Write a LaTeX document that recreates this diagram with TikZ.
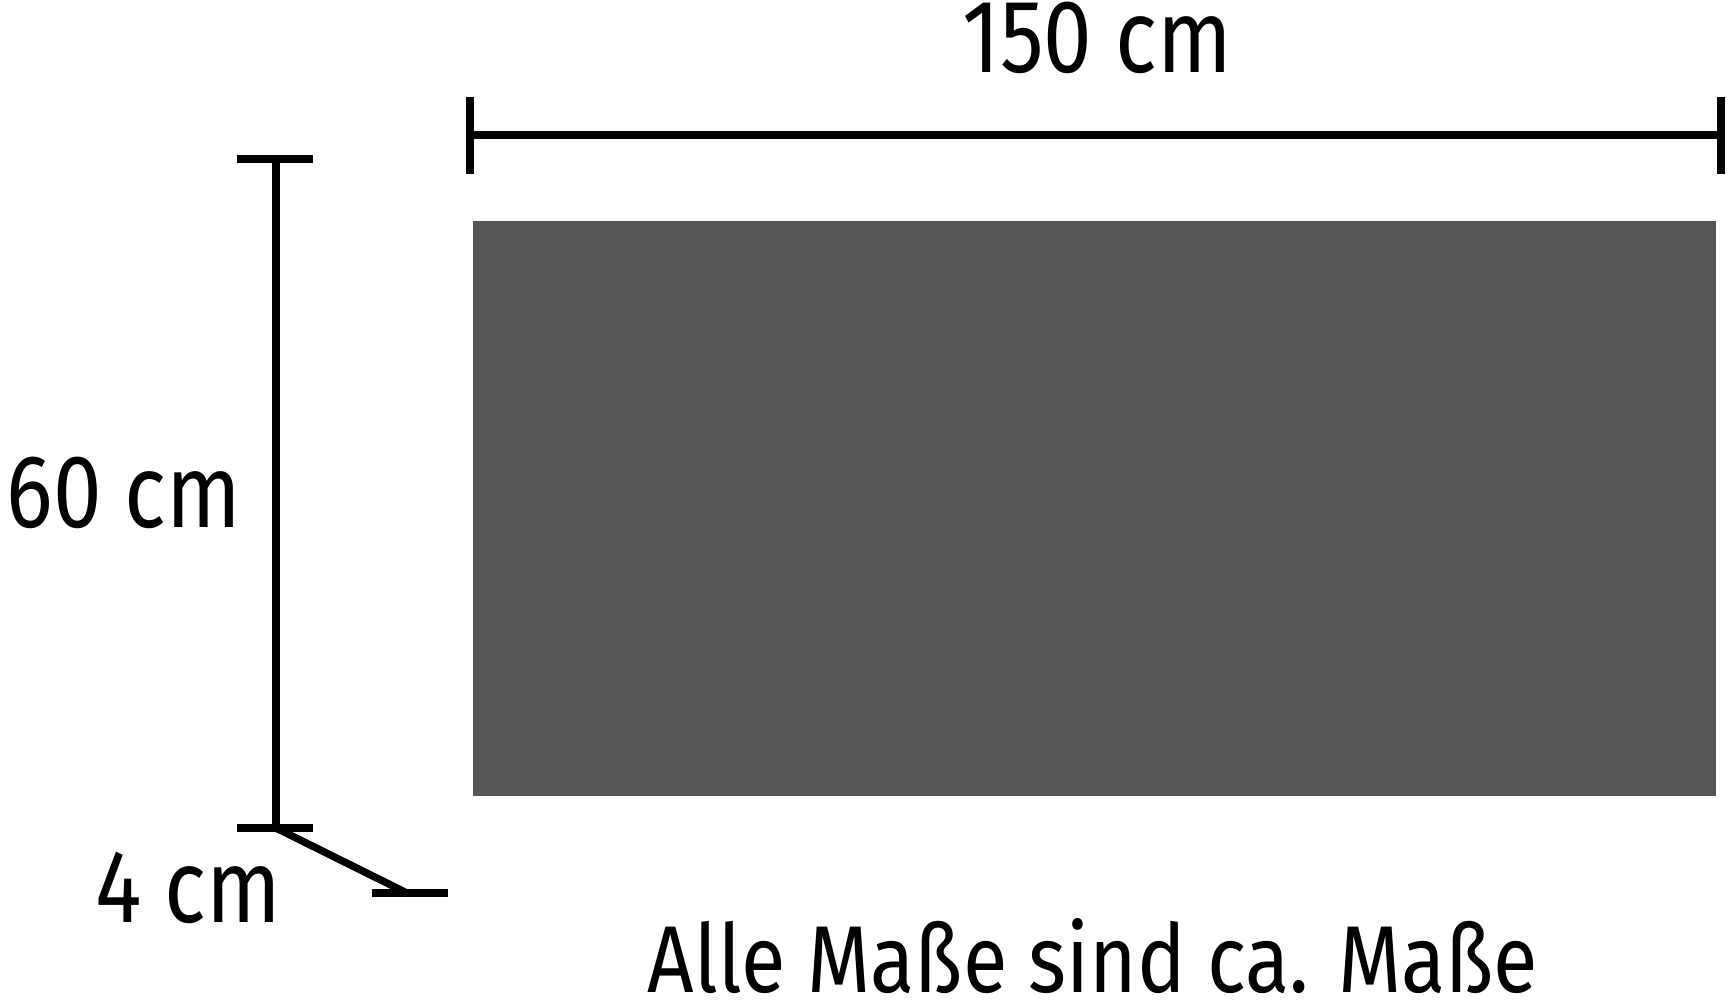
\documentclass[tikz,border=0pt]{standalone}
\usepackage{fontspec}
\setmainfont[FakeStretch=0.84]{Fira Sans}
\newfontfamily\notefont[FakeStretch=0.856]{Fira Sans}
\definecolor{panel}{RGB}{85,85,85}
\begin{document}
\begin{tikzpicture}[x=0.01cm,y=-0.01cm,
  dim/.style={line width=2.1pt,black},
  lbl/.style={inner sep=0pt,anchor=base,font=\fontsize{29.5}{32}\selectfont},
  note/.style={inner sep=0pt,anchor=base,font=\notefont\fontsize{27}{30}\selectfont}]
\useasboundingbox (0,0) rectangle (1734,1000);
% panel
\fill[panel] (473,221) rectangle (1716,796);
% top dimension
\coordinate (tl) at (470,135);
\coordinate (tr) at (1721,135);
\draw[dim] (tl) -- (tr);
\draw[dim] (470,97) -- (470,174);
\draw[dim] (1721,97) -- (1721,174);
\node[lbl] (w) at (1097,72) {150 cm};
% left dimension
\coordinate (lt) at (276,159);
\coordinate (lb) at (276,828);
\draw[dim] (lt) -- (lb);
\draw[dim] (237,159) -- (313,159);
\draw[dim] (237,828) -- (313,828);
\node[lbl] (h) at (124,527) {60 cm};
% depth
\coordinate (dd) at (407,893);
\draw[dim] (lb) -- (dd);
\draw[dim] (372,893) -- (448,893);
\node[lbl] (d) at (188,922) {4 cm};
% note
\node[note] (n) at (1093,992) {Alle Maße sind ca. Maße};
\end{tikzpicture}
\end{document}
